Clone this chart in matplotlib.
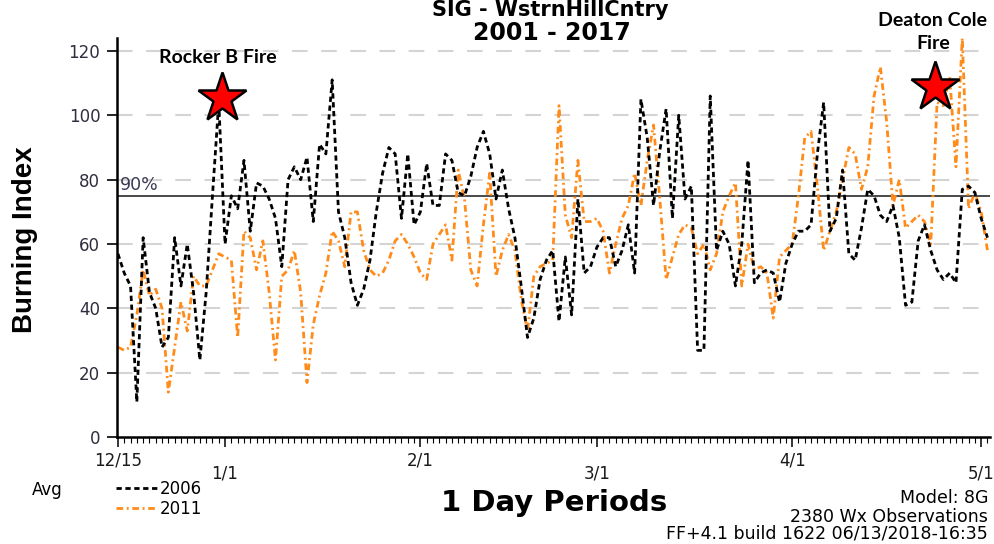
import numpy as np
import matplotlib
matplotlib.use("Agg")
import matplotlib.pyplot as plt

# ---------------- data ----------------
tick_days = [0, 17, 48, 76, 107, 137]
tick_labels = ["12/15", "1/1", "2/1", "3/1", "4/1", "5/1"]
y_ticks = [0, 20, 40, 60, 80, 100, 120]
pct90_value = 75

bi_2006 = [57, 51, 47, 11, 62, 45, 40, 28, 31, 62, 47, 60, 45, 24, 45, 75, 104, 60, 75, 71,
           86, 64, 79, 78, 74, 68, 53, 80, 84, 80, 87, 67, 91, 88, 111, 70, 62, 48, 41, 46,
           55, 70, 82, 90, 88, 68, 88, 66, 70, 85, 72, 72, 88, 86, 76, 75, 81, 90, 95, 88,
           74, 83, 71, 62, 47, 31, 37, 49, 55, 58, 36, 56, 38, 74, 51, 53, 59, 62, 62, 53,
           58, 66, 51, 105, 93, 72, 89, 102, 68, 100, 74, 78, 27, 27, 106, 58, 64, 60, 47, 60,
           86, 48, 51, 52, 51, 42, 54, 60, 64, 64, 66, 88, 104, 64, 68, 83, 57, 55, 65, 77,
           75, 69, 67, 72, 62, 41, 42, 61, 66, 58, 52, 49, 51, 48, 77, 78, 76, 68, 62]

bi_2011 = [28, 27, 28, 38, 52, 44, 46, 40, 14, 28, 42, 33, 50, 47, 47, 52, 57, 56, 55, 31,
           64, 62, 52, 61, 45, 24, 50, 52, 58, 45, 17, 35, 44, 51, 64, 61, 53, 70, 70, 58,
           52, 50, 51, 55, 61, 63, 60, 56, 51, 49, 60, 63, 66, 55, 83, 74, 52, 47, 66, 82,
           50, 58, 63, 58, 43, 33, 50, 53, 54, 55, 103, 69, 62, 86, 67, 67, 68, 64, 51, 60,
           68, 72, 82, 72, 86, 97, 74, 49, 56, 63, 66, 65, 57, 60, 52, 57, 70, 75, 79, 47,
           60, 52, 53, 51, 37, 56, 58, 60, 75, 93, 95, 78, 58, 64, 70, 80, 90, 88, 77, 84,
           106, 115, 98, 72, 80, 65, 67, 69, 67, 60, 104, 103, 112, 84, 124, 71, 76, 70, 58]

fires = ["Rocker B Fire", "Deaton Cole\nFire"]
fire_days = [16.5, 129.7]
fire_values = [105.3, 108.7]

days_2006 = np.arange(len(bi_2006))
days_2011 = np.arange(len(bi_2011))

# ---------------- figure ----------------
W, H = 994, 544
fig = plt.figure(figsize=(W / 100, H / 100), dpi=100)
ax_l, ax_r, ax_b, ax_t = 117, 990, 437.3, 38
ax = fig.add_axes([ax_l / W, 1 - ax_b / H, (ax_r - ax_l) / W, (ax_b - ax_t) / H])

ax.set_xlim(-0.15, 138.4)
ax.set_ylim(0, 124)

# grid
for v in y_ticks[1:]:
    ax.axhline(v, color="#d4d4d4", lw=1.5, ls=(0, (7.5, 6.5)), zorder=0)

# 90% line
ax.axhline(pct90_value, color="#4a4a4a", lw=1.4, zorder=1)
ax.text(0.3, pct90_value + 0.6, "90%", fontsize=12.5, color="#3a3a55",
        ha="left", va="bottom")

l1, = ax.plot(days_2006, bi_2006, color="black", lw=2.0,
              ls=(0, (1.9, 1.3)), zorder=3)
l2, = ax.plot(days_2011, bi_2011, color="#ff8c1a", lw=2.0,
              ls=(0, (2.4, 1.3, 0.7, 1.3)), zorder=2)

# stars
ax.plot(fire_days, fire_values, ls="none", marker="*", ms=37, mfc="#ff0000",
        mec="black", mew=1.8, zorder=6, clip_on=False)
ax.text(15.9, 118, fires[0], family="Lato", fontweight="bold", fontsize=14,
        ha="center", va="center", zorder=7)
fig.text(933 / W, 1 - 32 / H, fires[1], family="Lato", fontweight="bold",
         fontsize=14, ha="center", va="center", linespacing=1.45)

# spines
for s in ["top", "right"]:
    ax.spines[s].set_visible(False)
for s in ["left", "bottom"]:
    ax.spines[s].set_linewidth(1.8)
    ax.spines[s].set_color("black")

# y ticks
ax.set_yticks(y_ticks)
ax.tick_params(axis="y", direction="out", length=7, width=1.2, pad=5,
               labelsize=12, labelcolor="#2e2e3e")

# x ticks
ax.set_xticks(tick_days)
ax.set_xticklabels(tick_labels)
ax.set_xticks(np.arange(0, 139), minor=True)
ax.tick_params(axis="x", which="major", direction="out", length=7.5, width=1.1,
               labelsize=12, labelcolor="#1a1a1a")
ax.tick_params(axis="x", which="minor", direction="out", length=4.5, width=0.8)
for i, t in enumerate(ax.xaxis.get_major_ticks()):
    t.set_pad(3 if i % 2 == 0 else 12)

# axis labels
ax.set_ylabel("Burning Index", family="Liberation Sans", fontsize=20,
              fontweight="bold", va="center")
ax.yaxis.set_label_coords((25 - ax_l) / (ax_r - ax_l), (ax_b - 240) / (ax_b - ax_t))
ax.set_xlabel("1 Day Periods", fontsize=21, fontweight="bold", va="center")
ax.xaxis.set_label_coords((554 - ax_l) / (ax_r - ax_l), (ax_b - 503) / (ax_b - ax_t))

# title
fig.text(550 / W, 1 - 0.5 / H, "SIG - WstrnHillCntry", ha="center", va="top",
         fontsize=15, fontweight="bold")
fig.text(552 / W, 1 - 21 / H, "2001 - 2017", ha="center", va="top",
         fontsize=17, fontweight="bold")

# legend
fig.text(32 / W, 1 - 490 / H, "Avg", fontsize=12, ha="left", va="center")
fig.legend(handles=[l1, l2], labels=["2006", "2011"], loc="center left",
           bbox_to_anchor=(116 / W, 1 - 499 / H), frameon=False, fontsize=12,
           handlelength=2.5, handletextpad=0.15, labelspacing=0.1,
           borderpad=0, borderaxespad=0)

# footer text
fig.text(988 / W, 1 - 498 / H, "Model: 8G", fontsize=12.5, ha="right", va="center")
fig.text(988 / W, 1 - 517 / H, "2380 Wx Observations", fontsize=12.5,
         ha="right", va="center")
fig.text(988 / W, 1 - 534 / H, "FF+4.1 build 1622 06/13/2018-16:35", fontsize=12.5,
         ha="right", va="center")

fig.savefig("out.png", dpi=100)
